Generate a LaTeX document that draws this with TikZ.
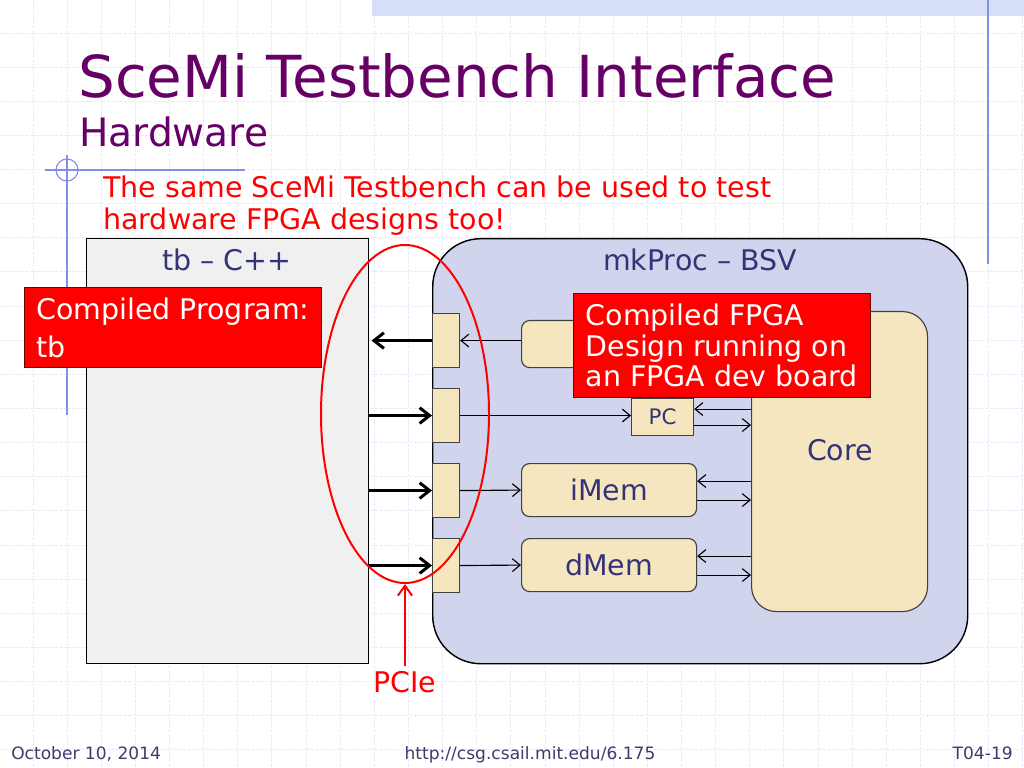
\documentclass[tikz,border=0pt]{standalone}
\usepackage{fontspec}
\setmainfont{DejaVu Sans}
\usetikzlibrary{arrows.meta,positioning,calc,shapes.geometric}

\definecolor{titlepurple}{RGB}{102,0,102}
\definecolor{labelblue}{RGB}{51,51,119}
\definecolor{footblue}{RGB}{60,60,110}
\definecolor{gridline}{RGB}{230,233,247}
\definecolor{decoblue}{RGB}{128,144,232}
\definecolor{bandblue}{RGB}{214,222,248}
\definecolor{hostgrey}{RGB}{240,240,240}
\definecolor{proclav}{RGB}{208,212,236}
\definecolor{modbeige}{RGB}{245,230,192}

\newcommand\pxl{0.703125pt}

\begin{document}
\begin{tikzpicture}[x=0.703125pt,y=-0.703125pt,
    box/.style={draw=black!75,line width=0.8pt,fill=modbeige,text=labelblue,inner sep=0pt,font=\fontsize{20}{24}\selectfont},
    port/.style={box,minimum width=27*\pxl,minimum height=54*\pxl,anchor=north west},
    unit/.style={box,rounded corners=8*\pxl,minimum width=175*\pxl,minimum height=53*\pxl,anchor=north west},
    wire/.style={line width=0.8pt,-{Straight Barb[length=5.5pt,width=9pt]}},
    link/.style={line width=2.1pt,-{Straight Barb[length=7pt,width=11pt]}},
    callout/.style={draw=red!45!black,line width=0.6pt,fill=red,text=white,inner sep=0pt,align=left,anchor=north west,minimum width=297*\pxl},
    caption/.style={text=labelblue,anchor=base,font=\fontsize{20}{24}\selectfont},
    footer/.style={text=footblue,inner sep=0pt,font=\fontsize{12}{14}\selectfont}]

% slide background
\useasboundingbox (0,0) rectangle (1024,768);
\fill[white] (0,0) rectangle (1024,768);
\foreach \g in {0,...,29}
  \draw[gridline,line width=0.6pt,dash pattern=on 2pt off 1pt] (33+34.13*\g,0) -- (33+34.13*\g,768);
\foreach \g in {0,...,21}
  \draw[gridline,line width=0.6pt,dash pattern=on 2pt off 1pt] (0,33+34.13*\g) -- (1024,33+34.13*\g);
\fill[bandblue] (372,0) rectangle (1024,16);
\draw[decoblue,line width=0.8pt] (988,0) -- (988,264);
\draw[decoblue,line width=0.8pt] (67,155) -- (67,415);
\draw[decoblue,line width=0.8pt] (45,170) -- (245,170);
\draw[decoblue,line width=0.8pt] (67,170) circle [radius=11];

% titles
\node[anchor=base west,inner sep=0pt,text=titlepurple,font=\fontsize{40.7}{48}\selectfont] (title) at (78,98) {SceMi Testbench Interface};
\node[anchor=base west,inner sep=0pt,text=titlepurple,font=\fontsize{27.5}{33}\selectfont] (subtitle) at (79,147) {Hardware};
\node[anchor=north west,inner sep=0pt,text=red,align=left,font=\fontsize{20}{22}\selectfont] (remark) at (103,176) {The same SceMi Testbench can be used to test\\hardware FPGA designs too!};

% host side and FPGA side
\node[draw=black,line width=1pt,fill=hostgrey,minimum width=282*\pxl,minimum height=425*\pxl,anchor=north west,inner sep=0pt] (tb) at (86,238) {};
\node[caption] (tblabel) at (227,271) {tb – C++};
\node[draw=black,line width=1pt,fill=proclav,rounded corners=48*\pxl,minimum width=535*\pxl,minimum height=425*\pxl,anchor=north west,inner sep=0pt] (proc) at (432,238) {};
\node[caption] (proclabel) at (700,271) {mkProc – BSV};

% modules inside mkProc
\node[box,rounded corners=25*\pxl,minimum width=176*\pxl,minimum height=300*\pxl,anchor=north west] (core) at (751,311) {};
\node[caption] (corelabel) at (840,460) {Core};
\node[unit,minimum height=47*\pxl] (fetch) at (521,320) {};
\node[box,minimum width=62*\pxl,minimum height=37*\pxl,anchor=north west,font=\fontsize{15}{18}\selectfont] (pc) at (631,398) {PC};
\node[unit] (imem) at (521,463) {iMem};
\node[unit] (dmem) at (521,538) {dMem};
\foreach \name/\top in {portA/313,portB/388,portC/463,portD/538}
  \node[port] (\name) at (432,\top) {};

% PCIe links
\draw[link,shorten >=1.5pt] (portA.west) -- (portA.west -| tb.east);
\foreach \name in {portB,portC,portD}
  \draw[link] (\name.west -| tb.east) -- (\name.west);

% wires
\draw[wire] (portA.east -| fetch.west) -- (portA.east);
\draw[wire] (portB.east) -- (portB.east -| pc.west);
\draw[wire] (portC.east) -- (imem.west);
\draw[wire] (portD.east) -- (dmem.west);
\draw[wire] ($(pc.east -| core.west)+(0,-8)$) -- ($(pc.east)+(0,-8)$);
\draw[wire] ($(pc.east)+(0,8)$) -- ($(pc.east -| core.west)+(0,8)$);
\foreach \m in {imem,dmem} {
  \draw[wire] ($(\m.east -| core.west)+(0,-9)$) -- ($(\m.east)+(0,-9)$);
  \draw[wire] ($(\m.east)+(0,10)$) -- ($(\m.east -| core.west)+(0,10)$);
}

% callouts
\node[callout,minimum height=80*\pxl,font=\fontsize{20}{26.7}\selectfont] (progcall) at (24,287) {Compiled Program:\\tb};
\node[callout,minimum height=104*\pxl,font=\fontsize{20}{21.4}\selectfont] (fpgacall) at (573,293) {Compiled FPGA\\Design running on\\an FPGA dev board};

% PCIe ring
\node[draw=red,line width=1.4pt,ellipse,minimum width=168*\pxl,minimum height=338*\pxl,inner sep=0pt] (ring) at (405,414) {};
\node[text=red,anchor=base,font=\fontsize{20}{24}\selectfont] (pcie) at (405,692) {PCIe};
\draw[red,line width=1.4pt,-{Straight Barb[length=7pt,width=10pt]}] (pcie.north) -- (ring.south);

% footer
\node[footer,anchor=base west] (date) at (11,759) {October 10, 2014};
\node[footer,anchor=base] (url) at (530,759) {http://csg.csail.mit.edu/6.175};
\node[footer,anchor=base east] (slideno) at (1013,759) {T04-19};
\end{tikzpicture}
\end{document}
